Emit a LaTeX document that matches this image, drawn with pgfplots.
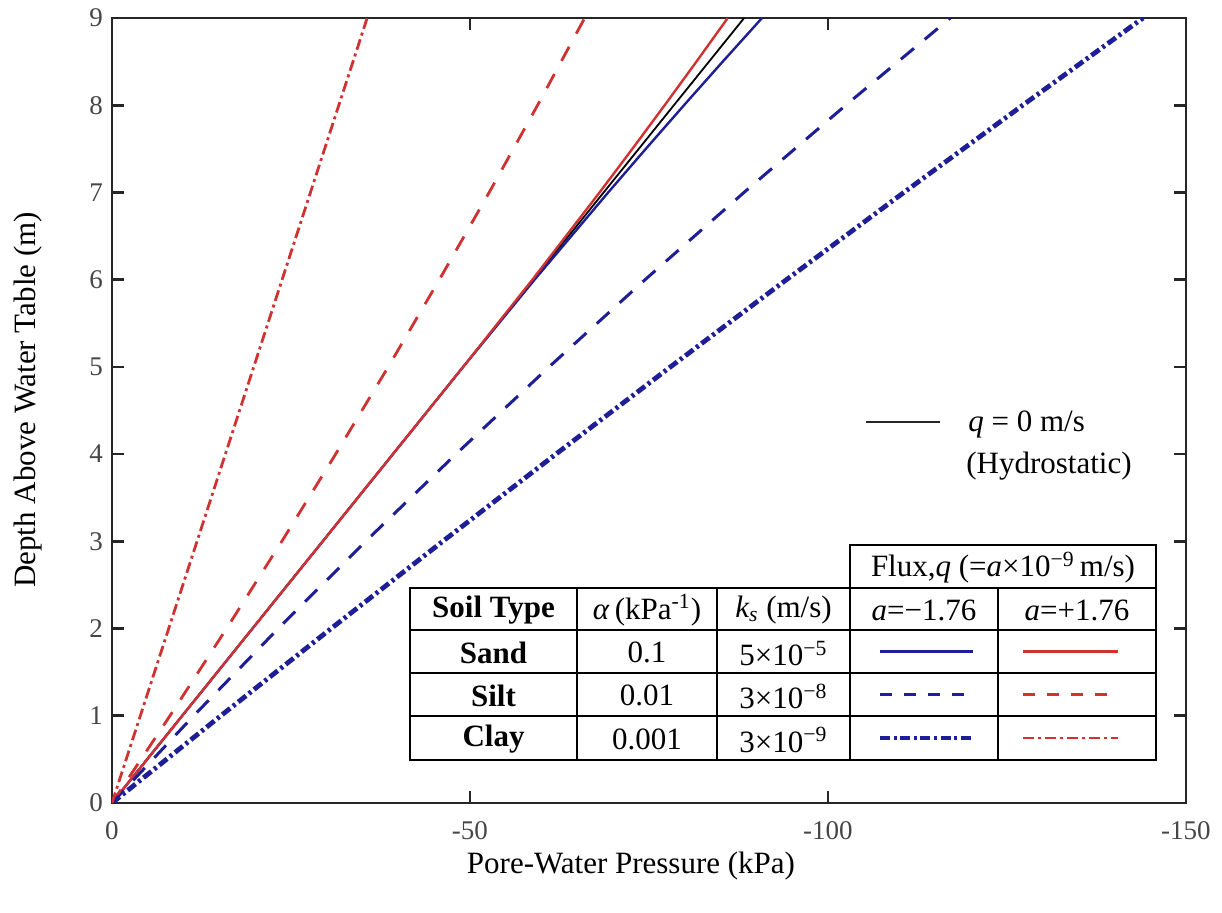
\documentclass[border=0pt]{standalone}
\usepackage{fontspec}
\setmainfont{Liberation Serif}
\usepackage{pgfplots}
\pgfplotsset{compat=1.18}

\definecolor{sandblue}{RGB}{30,30,150}
\definecolor{soilred}{RGB}{208,50,50}
\definecolor{axisgray}{RGB}{38,38,38}
\definecolor{ticktext}{RGB}{70,70,70}

\newcommand{\lbl}{\fontsize{15.5}{18}\selectfont}

\tikzset{
  sandneg/.style={sandblue, line width=1.2pt},
  sandpos/.style={soilred, line width=1.2pt},
  siltneg/.style={sandblue, line width=1.5pt, dash pattern=on 8.5pt off 7pt},
  siltpos/.style={soilred, line width=1.4pt, dash pattern=on 8pt off 7.5pt},
  clayneg/.style={sandblue, line width=2.4pt, dash pattern=on 5pt off 1.8pt on 1.5pt off 1.8pt},
  claypos/.style={soilred, line width=1.4pt, dash pattern=on 5.5pt off 2pt on 1.5pt off 2pt},
}

\begin{document}
\begin{tikzpicture}
\path[use as bounding box] (0,0) rectangle (611pt,456.5pt);
\begin{axis}[
  at={(324.5pt,251.25pt)}, anchor=center,
  scale only axis, width=537pt, height=392.5pt,
  xmin=-150, xmax=0, ymin=0, ymax=9,
  x dir=reverse,
  xtick={0,-50,-100,-150}, xticklabels={0,-50,-100,-150},
  ytick={0,1,2,3,4,5,6,7,8,9}, yticklabels={0,1,2,3,4,5,6,7,8,9},
  tick align=inside, major tick length=6pt,
  axis line style={axisgray, line width=1.4pt},
  every tick/.style={axisgray, line width=1.3pt},
  tick label style={font=\fontsize{13.5}{13.5}\selectfont, text=ticktext},
  xticklabel style={yshift=-6pt},
  yticklabel style={xshift=-1pt},
  clip=true,
]
% hydrostatic profile, q = 0
\addplot[black, line width=0.9pt] coordinates {(0,0) (-88.29,9)};
% sand, a = -1.76 and a = +1.76
\addplot[sandneg] coordinates {(0,0) (-49.05,5) (-59.02,6) (-69.30,7) (-74.56,7.5) (-79.89,8) (-85.30,8.5) (-90.79,9)};
\addplot[sandpos] coordinates {(0,0) (-49.05,5) (-58.72,6) (-68.10,7) (-72.68,7.5) (-77.19,8) (-81.63,8.5) (-86.00,9)};
% silt
\addplot[siltneg] coordinates {(0,0) (-11.41,1) (-23.22,2) (-35.43,3) (-48.04,4) (-61.05,5) (-74.46,6) (-88.27,7) (-102.48,8) (-117.09,9)};
\addplot[siltpos] coordinates {(0,0) (-8.10,1) (-16.00,2) (-23.72,3) (-31.24,4) (-38.58,5) (-45.72,6) (-52.68,7) (-59.44,8) (-66.02,9)};
% clay
\addplot[clayneg] coordinates {(0,0) (-15.2,1) (-30.6,2) (-46.2,3) (-62.0,4) (-78.0,5) (-94.2,6) (-110.6,7) (-127.2,8) (-144.0,9)};
\addplot[claypos] coordinates {(0,0) (-7.92,2) (-15.84,4) (-23.76,6) (-31.68,8) (-35.64,9)};
\end{axis}

% annotations, laid out in a top-down frame of 0.5pt units
\begin{scope}[shift={(0,456.5pt)}, x=0.5pt, y=-0.5pt, every node/.style={font=\lbl}]
  % axis titles
  \node at (631,866) {Pore-Water Pressure (kPa)};
  \node[rotate=90] at (28,400) {Depth Above Water Table (m)};

  % hydrostatic key
  \draw[black!85, line width=1.1pt] (866,422) -- (940,422);
  \node[anchor=base west, inner sep=0] at (968,432) {\textit{q} = 0 m/s};
  \node[anchor=base west, inner sep=0] at (966,474) {(Hydrostatic)};

  % soil table
  \fill[white] (410,588) rectangle (1156,760);
  \fill[white] (850,545) rectangle (1156,588);
  \begin{scope}[line width=1pt, black]
    \draw (410,588) rectangle (1156,760);
    \draw (850,545) rectangle (1156,588);
    \foreach \r in {630,673,716} \draw (410,\r) -- (1156,\r);
    \foreach \c in {577,717,850,998} \draw (\c,588) -- (\c,760);
  \end{scope}

  \node at (1003,567.5) {Flux,\textit{q} (=\textit{a}×10\textsuperscript{−9}\,m/s)};
  \node at (493.5,610) {\textbf{Soil Type}};
  \node at (647,610) {\textit{α}\,(kPa\textsuperscript{-1})};
  \node at (783.5,610) {\textit{k\textsubscript{s}} (m/s)};
  \node at (924,610) {\textit{a}=−1.76};
  \node at (1077,610) {\textit{a}=+1.76};

  \node at (493.5,652.5) {\textbf{Sand}};
  \node at (493.5,695.5) {\textbf{Silt}};
  \node at (493.5,739) {\textbf{Clay}};
  \node at (647,652.5) {0.1};
  \node at (647,695.5) {0.01};
  \node at (647,739) {0.001};
  \node at (783.5,653.5) {5×10\textsuperscript{−5}};
  \node at (783.5,696.5) {3×10\textsuperscript{−8}};
  \node at (783.5,740) {3×10\textsuperscript{−9}};

  % line keys
  \draw[sandneg] (880,651.5) -- (973,651.5);
  \draw[sandpos] (1023,651.5) -- (1118,651.5);
  \draw[siltneg, dash pattern=on 6pt off 6pt] (880,694.5) -- (973,694.5);
  \draw[siltpos, dash pattern=on 6pt off 6pt] (1023,694.5) -- (1118,694.5);
  \draw[clayneg] (880,738) -- (973,738);
  \draw[claypos] (1023,738) -- (1118,738);
\end{scope}
\end{tikzpicture}
\end{document}
